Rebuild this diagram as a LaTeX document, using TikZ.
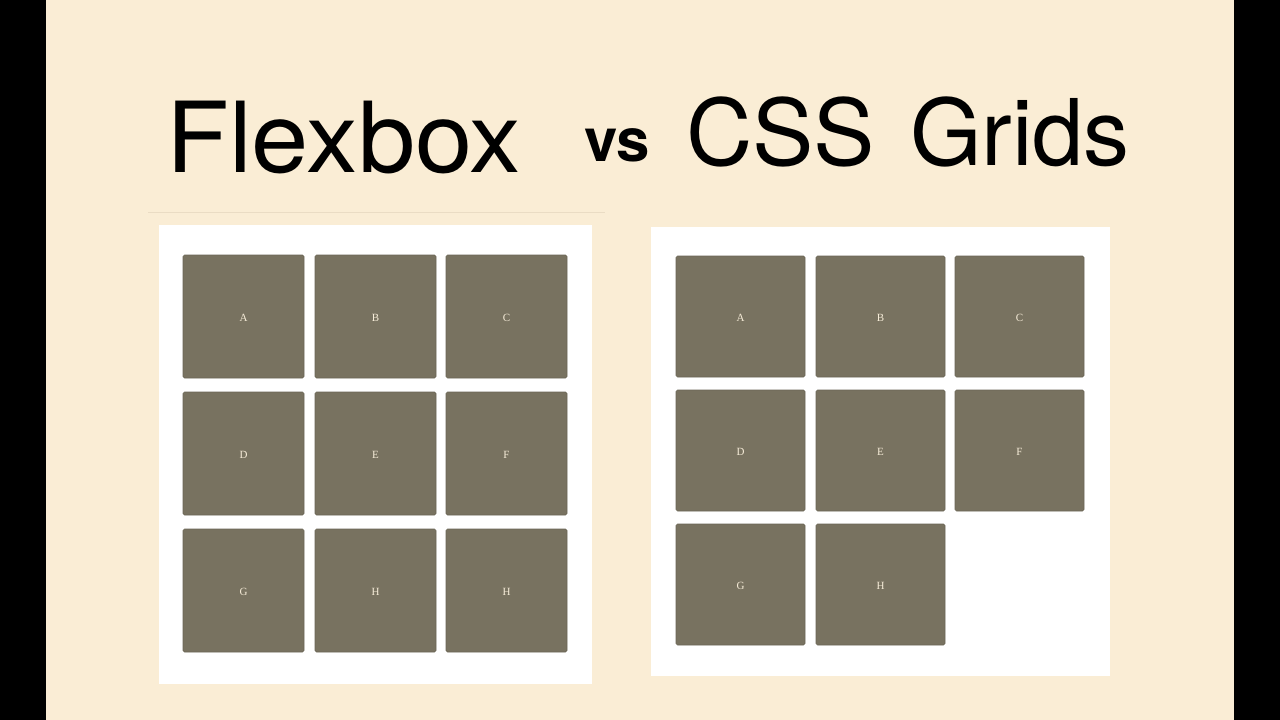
\documentclass[tikz,border=0pt]{standalone}
\usepackage{fontspec}
\setmainfont{TeX Gyre Heros}
\newfontfamily\titlewide[FakeStretch=1.05]{TeX Gyre Heros}
\newfontfamily\letterfont{Liberation Serif}
\definecolor{cream}{HTML}{FAEDD5}
\definecolor{tile}{HTML}{787260}
\definecolor{tileedge}{HTML}{6A6555}
\definecolor{lettercol}{HTML}{F6ECD8}
\definecolor{rulecol}{HTML}{EADCC4}
\begin{document}
\begin{tikzpicture}[x=1pt,y=-1pt,
  tilebox/.style={fill=tile,draw=tileedge,line width=0.6pt,rounded corners=1.5pt},
  tilelabel/.style={text=lettercol,font=\letterfont\fontsize{11}{11}\selectfont,inner sep=0pt},
  panel/.style={fill=white,draw=none}]
\useasboundingbox (0,0) rectangle (1280,720);
\fill[black] (0,0) rectangle (1280,720);
\fill[cream] (46,0) rectangle (1234,720);
% title
\node[anchor=base west,inner sep=0pt,font=\titlewide\fontsize{98}{98}\selectfont] (t1) at (166,172) {Flexbox};
\node[anchor=base west,inner sep=0pt,font=\bfseries\fontsize{60}{60}\selectfont] (t2) at (584,161) {vs};
\node[anchor=base west,inner sep=0pt,font=\fontsize{92}{92}\selectfont] (t3) at (686,165) {CSS\hspace{0.1em} Grids};
% separator
\draw[rulecol,line width=0.8pt] (148,212) -- (605,212);
% left panel
\fill[panel] (159,225) rectangle (592,684);
\foreach \x/\y in {183/255,315/255,446/255,183/392,315/392,446/392,183/529,315/529,446/529}{
  \draw[tilebox] (\x,\y) rectangle ++(121,123);
}
\foreach \lab/\x/\y/\nm in {A/243.5/317.5/la,B/375.5/317.5/lb,C/506.5/317.5/lc,D/243.5/454.5/ld,E/375.5/454.5/le,F/506.5/454.5/lf,G/243.5/591.5/lg,H/375.5/591.5/lh,H/506.5/591.5/li}{
  \node[tilelabel] (\nm) at (\x,\y) {\lab};
}
% right panel
\fill[panel] (651,227) rectangle (1110,676);
\foreach \x/\y in {676/256,816/256,955/256,676/390,816/390,955/390,676/524,816/524}{
  \draw[tilebox] (\x,\y) rectangle ++(129,121);
}
\foreach \lab/\x/\y/\nm in {A/740.5/317.5/ra,B/880.5/317.5/rb,C/1019.5/317.5/rc,D/740.5/451.5/rd,E/880.5/451.5/re,F/1019.5/451.5/rf,G/740.5/585.5/rg,H/880.5/585.5/rh}{
  \node[tilelabel] (\nm) at (\x,\y) {\lab};
}
\end{tikzpicture}
\end{document}
